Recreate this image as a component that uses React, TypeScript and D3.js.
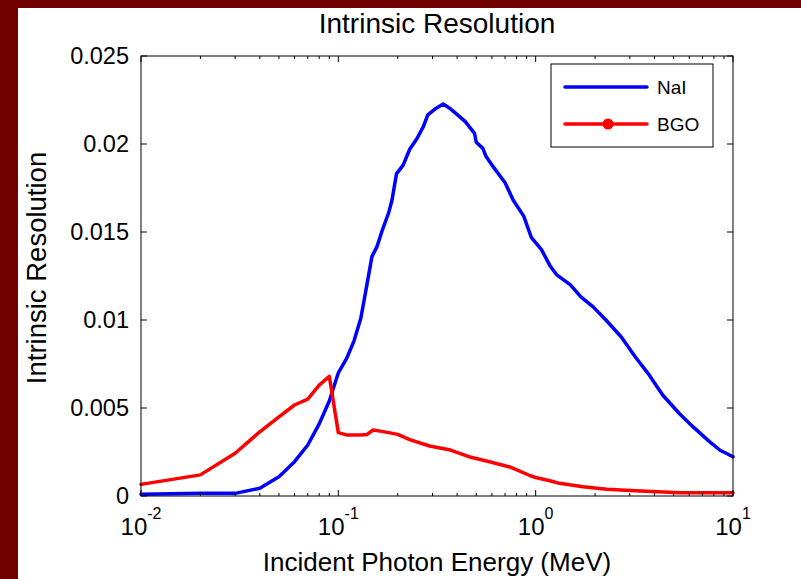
import React from "react";
import * as d3 from "d3";

const naiEnergy = [0.01, 0.02, 0.03, 0.04, 0.05, 0.06, 0.07, 0.08, 0.09, 0.1, 0.11, 0.12, 0.13, 0.138, 0.148, 0.157, 0.167, 0.18, 0.187, 0.197, 0.213, 0.23, 0.25, 0.27, 0.284, 0.31, 0.34, 0.37, 0.398, 0.44, 0.49, 0.5, 0.54, 0.56, 0.61, 0.7, 0.77, 0.87, 0.95, 1.07, 1.18, 1.28, 1.5, 1.7, 1.95, 2.27, 2.71, 3.2, 3.76, 4.4, 5.33, 6.26, 7.6, 8.6, 10];
const naiValues = [0.0001, 0.00015, 0.00015, 0.00044, 0.0011, 0.00195, 0.0029, 0.0041, 0.0054, 0.007, 0.0078, 0.0088, 0.0101, 0.0117, 0.0136, 0.01417, 0.0151, 0.0161, 0.0168, 0.0183, 0.0188, 0.0197, 0.0203, 0.021, 0.02165, 0.022, 0.02227, 0.022, 0.0217, 0.02127, 0.0206, 0.0201, 0.01975, 0.0193, 0.0187, 0.0178, 0.0168, 0.0159, 0.0147, 0.014, 0.0131, 0.01256, 0.012, 0.0113, 0.01076, 0.01, 0.00905, 0.0079, 0.00688, 0.00574, 0.0047, 0.00394, 0.00309, 0.0026, 0.00223];

const bgoEnergy = [0.01, 0.02, 0.03, 0.04, 0.05, 0.06, 0.07, 0.08, 0.09, 0.1, 0.11, 0.13, 0.14, 0.15, 0.16, 0.18, 0.2, 0.23, 0.29, 0.37, 0.47, 0.59, 0.74, 0.94, 1.0, 1.18, 1.32, 1.74, 2.29, 3.2, 5.4, 10];
const bgoValues = [0.00066, 0.0012, 0.00243, 0.00365, 0.0045, 0.00517, 0.0055, 0.0063, 0.0068, 0.0036, 0.00347, 0.00347, 0.0035, 0.00375, 0.0037, 0.0036, 0.0035, 0.0032, 0.00284, 0.00261, 0.0022, 0.00193, 0.00165, 0.00115, 0.00105, 0.00087, 0.00072, 0.00053, 0.00038, 0.0003, 0.00019, 0.00019];

const yTicks = [0, 0.005, 0.01, 0.015, 0.02, 0.025];
const yTickLabels = ["0", "0.005", "0.01", "0.015", "0.02", "0.025"];
const xDecades = [0.01, 0.1, 1, 10];
const xDecadeExps = ["-2", "-1", "0", "1"];
const seriesNames = ["NaI", "BGO"];
const seriesColors = ["#0000ff", "#ff0000"];

const W = 801, H = 579;
const L = 141, R = 733, T = 56, B = 496;
const FONT = "'Liberation Sans', Arial, Helvetica, sans-serif";

export default function App() {
  const x = d3.scaleLog().domain([0.01, 10]).range([L, R]);
  const y = d3.scaleLinear().domain([0, 0.025]).range([B, T]);
  const line = d3.line<[number, number]>().x(d => x(d[0])).y(d => y(d[1]));
  const nai = naiEnergy.map((e, i) => [e, naiValues[i]] as [number, number]);
  const bgo = bgoEnergy.map((e, i) => [e, bgoValues[i]] as [number, number]);
  const minor: number[] = [];
  for (let d = 0; d < 3; d++) for (let k = 2; k <= 9; k++) minor.push(xDecades[d] * k);

  return (
    <svg width={W} height={H} style={{ position: "absolute", left: 0, top: 0 }} fontFamily={FONT}>
      <rect x={0} y={0} width={W} height={H} fill="#700000" />
      <rect x={18} y={8} width={W - 18} height={H - 8} fill="#ffffff" />
      <text x={(L + R) / 2} y={33} textAnchor="middle" fontSize={28} fill="#000">Intrinsic Resolution</text>
      {/* lines */}
      <path d={line(nai) || ""} fill="none" stroke={seriesColors[0]} strokeWidth={3.5} strokeLinejoin="round" strokeLinecap="round" />
      <path d={line(bgo) || ""} fill="none" stroke={seriesColors[1]} strokeWidth={3.5} strokeLinejoin="round" strokeLinecap="round" />
      {/* axes box */}
      <rect x={L} y={T} width={R - L} height={B - T} fill="none" stroke="#000" strokeWidth={1} />
      {yTicks.map((t, i) => (
        <g key={"y" + i}>
          <line x1={L} x2={L + 6} y1={y(t)} y2={y(t)} stroke="#000" />
          <line x1={R} x2={R - 6} y1={y(t)} y2={y(t)} stroke="#000" />
          <text x={129} y={y(t) + 8} textAnchor="end" fontSize={23.5}>{yTickLabels[i]}</text>
        </g>
      ))}
      {xDecades.map((t, i) => (
        <g key={"x" + i}>
          <line x1={x(t)} x2={x(t)} y1={B} y2={B - 6} stroke="#000" />
          <line x1={x(t)} x2={x(t)} y1={T} y2={T + 6} stroke="#000" />
          <text x={x(t)} y={535} textAnchor="middle" fontSize={24}>
            10<tspan fontSize={16} dy={-16}>{xDecadeExps[i]}</tspan>
          </text>
        </g>
      ))}
      {minor.map((t, i) => (
        <g key={"m" + i}>
          <line x1={x(t)} x2={x(t)} y1={B} y2={B - 3} stroke="#000" />
          <line x1={x(t)} x2={x(t)} y1={T} y2={T + 3} stroke="#000" />
        </g>
      ))}
      <text x={(L + R) / 2} y={571} textAnchor="middle" fontSize={26}>Incident Photon Energy (MeV)</text>
      <text transform={`translate(46,${(T + B) / 2 - 8}) rotate(-90)`} textAnchor="middle" fontSize={27.5}>Intrinsic Resolution</text>
      {/* legend */}
      <rect x={551} y={64} width={162} height={83} fill="#fff" stroke="#000" strokeWidth={1} />
      <line x1={565} x2={647} y1={87} y2={87} stroke={seriesColors[0]} strokeWidth={3.5} strokeLinecap="round" />
      <text x={657} y={94} fontSize={19}>{seriesNames[0]}</text>
      <line x1={565} x2={647} y1={124} y2={124} stroke={seriesColors[1]} strokeWidth={3.5} strokeLinecap="round" />
      <circle cx={608} cy={124} r={5.5} fill={seriesColors[1]} />
      <text x={657} y={131} fontSize={19}>{seriesNames[1]}</text>
    </svg>
  );
}
